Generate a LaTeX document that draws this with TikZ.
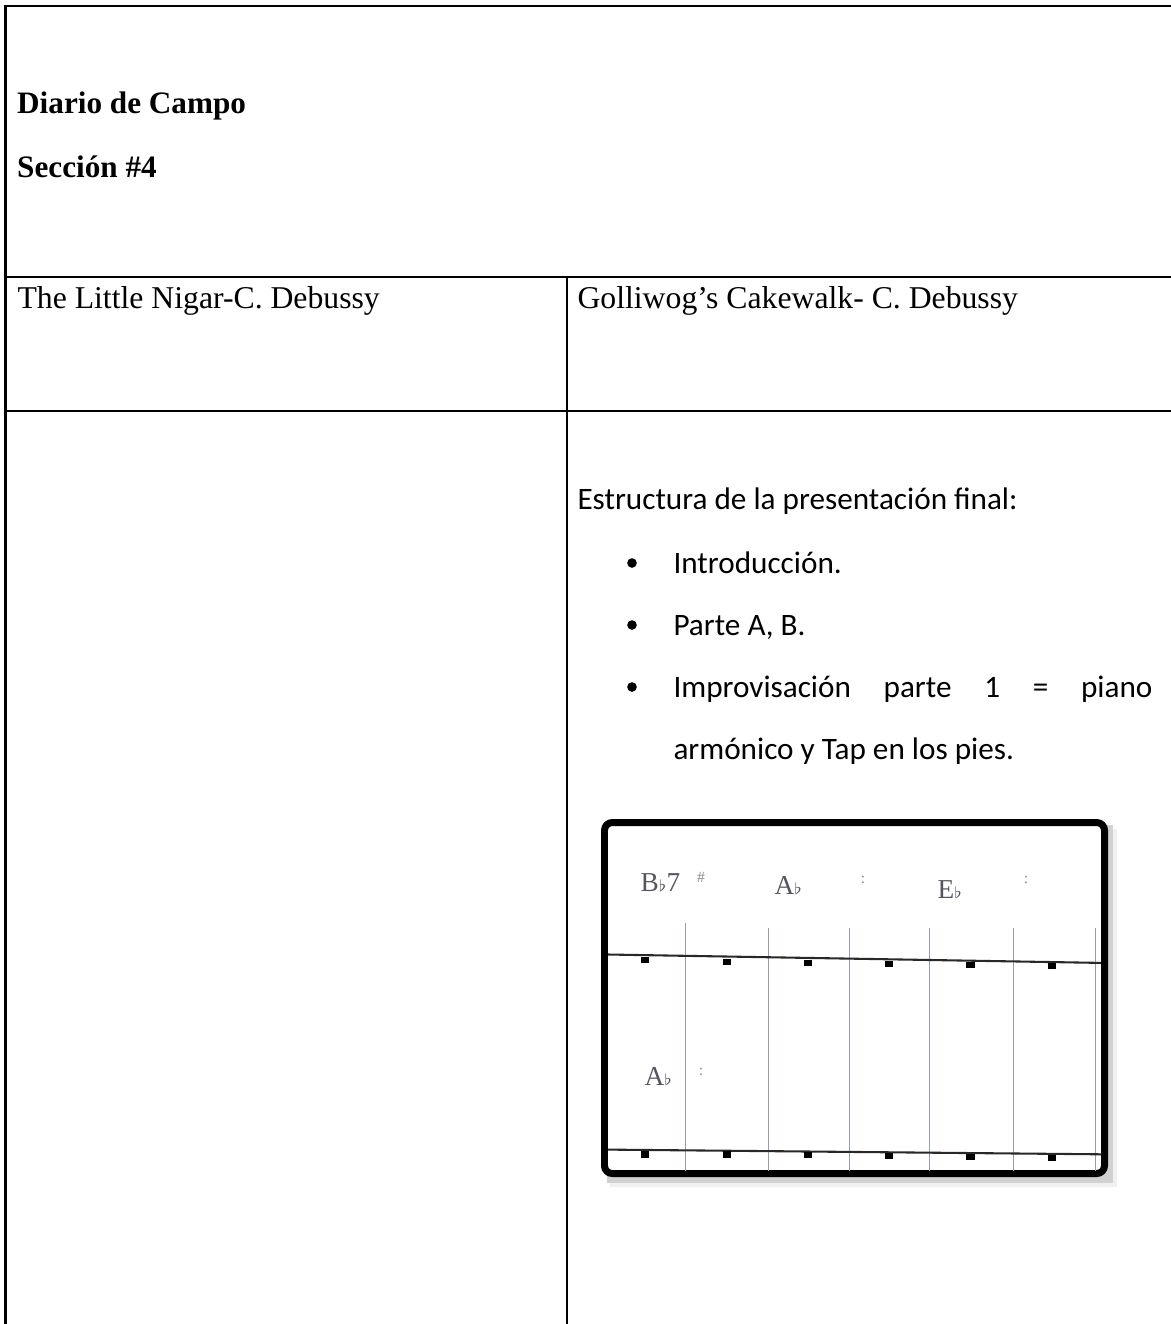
\documentclass[tikz,border=0pt]{standalone}
\usepackage{fontspec}
\setmainfont{Liberation Serif}
\newfontfamily\calibri{Carlito}
\definecolor{barcol}{RGB}{150,158,172}
\definecolor{chordcol}{RGB}{85,85,92}
\definecolor{staffcol}{RGB}{40,40,40}
\begin{document}
\begin{tikzpicture}[x=0.3846pt,y=-0.3846pt,
  rule/.style={line width=0.85pt,line cap=rect},
  txt/.style={anchor=base west,inner sep=0pt,font=\fontsize{12.2}{14}\selectfont},
  cal/.style={anchor=base west,inner sep=0pt,font=\fontsize{12}{14}\selectfont\calibri},
  bul/.style={circle,fill=black,inner sep=0pt,minimum size=3.7pt},
  chord/.style={anchor=base west,inner sep=0pt,text=chordcol,font=\fontsize{10.5}{12}\selectfont},
  tick/.style={inner sep=0pt,text=black!45,font=\fontsize{6}{7}\selectfont},
  barl/.style={draw=barcol,line width=0.3pt},
  staff/.style={draw=staffcol,line width=0.8pt},
  head/.style={fill=black,inner sep=0pt,minimum width=3.1pt,minimum height=2.4pt}]
\useasboundingbox (0,0) rectangle (1171,1324);
\fill[white] (0,0) rectangle (1171,1324);
% table rules
\draw[rule] (5.5,6) -- (1171,6);
\draw[rule] (5.5,6) -- (5.5,1324);
\draw[rule] (5.5,277) -- (1171,277);
\draw[rule] (5.5,411) -- (1171,411);
\draw[rule] (566.7,277) -- (566.7,1324);
% header texts
\node[txt,font=\fontsize{12}{14}\selectfont\bfseries] (diario) at (16.7,113) {Diario de Campo};
\node[txt,font=\fontsize{12}{14}\selectfont\bfseries] (seccion) at (16.7,177) {Sección \#4};
\node[txt] (little) at (17,308) {The Little Nigar-C. Debussy};
\node[txt] (golli) at (577,308) {Golliwog’s Cakewalk- C. Debussy};
% right column body
\node[cal] (estr) at (577,509) {Estructura de la presentación final:};
\node[bul] (b1) at (632,563) {};
\node[bul] (b2) at (632,625) {};
\node[bul] (b3) at (632,687) {};
\node[cal] (intro) at (673,573) {Introducción.};
\node[cal] (parte) at (673,635) {Parte A, B.};
\node[cal] (impro) at (673,697) {\makebox[184.2pt][s]{Improvisación parte 1 = piano}};
\node[cal] (armo) at (673,759) {armónico y Tap en los pies.};
% chord chart picture
\fill[black!6] (610,829) rectangle (1117,1187);
\fill[black!18] (607,825) rectangle (1113,1183);
\draw[line width=2.69pt,fill=white,rounded corners=3pt] (604.5,822.5) rectangle (1104.5,1173.5);
\begin{scope}
\clip (608,826) rectangle (1101,1170);
\foreach \bx/\by in {685/922.7,768/927.7,849/927.7,929/927.7,1013/927.7,1095/927.7}{
  \draw[barl] (\bx,\by) -- (\bx,1171);
}
\draw[staff] (608,954.5) -- (1101,962.9);
\draw[staff] (608,1149.6) -- (1101,1154.3);
\end{scope}
\node[head] (h1) at (644.6,960.2) {};
\node[head] (h2) at (726.7,961.9) {};
\node[head] (h3) at (808,962.9) {};
\node[head] (h4) at (889,963.9) {};
\node[head] (h5) at (970.5,965.2) {};
\node[head] (h6) at (1052,966.2) {};
\node[head] (k1) at (644.6,1154.6) {};
\node[head] (k2) at (726.7,1154.6) {};
\node[head] (k3) at (808,1155.3) {};
\node[head] (k4) at (889,1155.9) {};
\node[head] (k5) at (970.5,1156.9) {};
\node[head] (k6) at (1052,1157.9) {};
\node[chord] (c1) at (640,891) {B{\fontsize{6}{7}\selectfont$\flat$}7};
\node[chord] (c2) at (774,894) {A{\fontsize{6}{7}\selectfont$\flat$}};
\node[chord] (c3) at (937,898) {E{\fontsize{6}{7}\selectfont$\flat$}};
\node[chord] (c4) at (644,1085) {A{\fontsize{6}{7}\selectfont$\flat$}};
\node[tick] (m1) at (701,877) {\#};
\node[tick] (m2) at (863,880) {:};
\node[tick] (m3) at (1026,880) {:};
\node[tick] (m4) at (701,1072) {:};
\end{tikzpicture}
\end{document}
